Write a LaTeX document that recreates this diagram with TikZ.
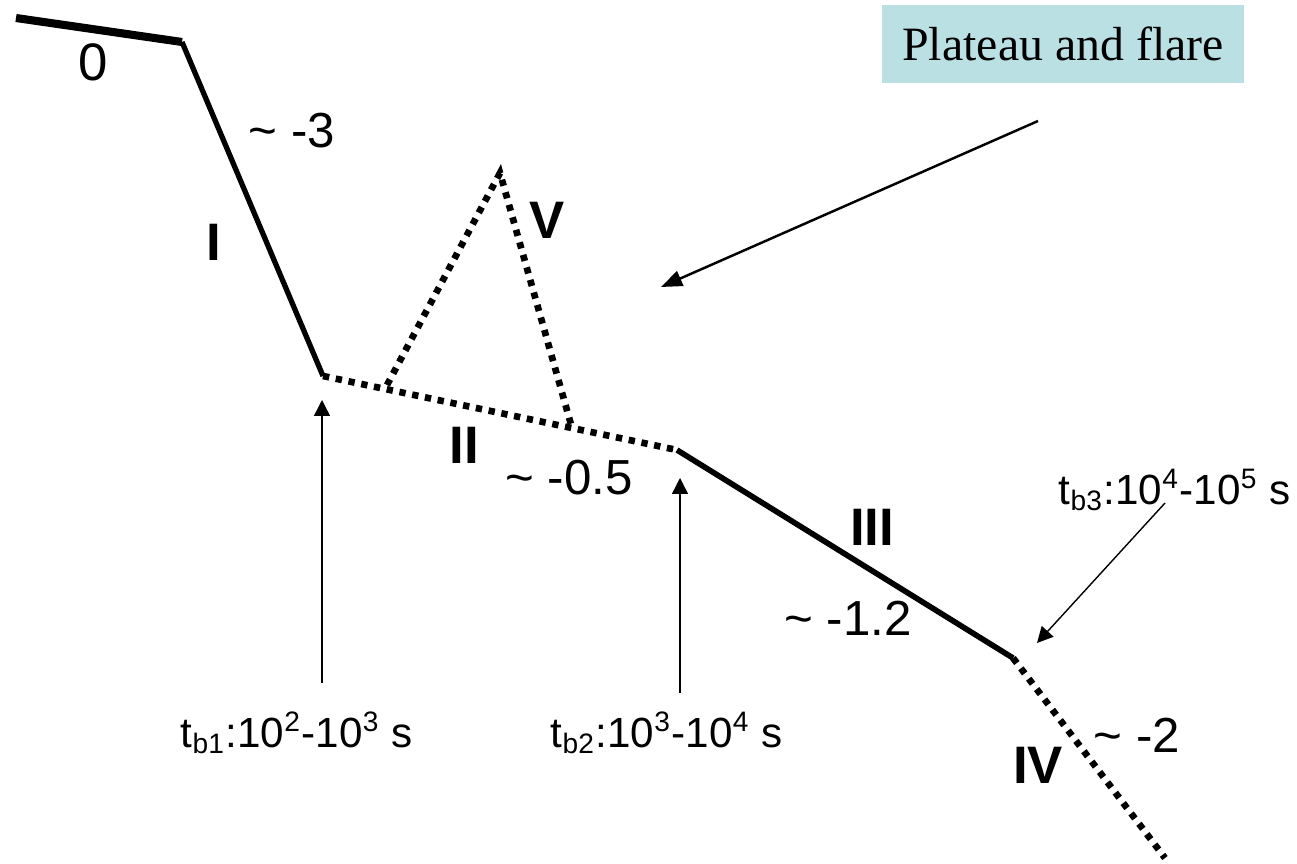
\documentclass[tikz,border=0pt]{standalone}
\usepackage{fontspec}
\setmainfont{Liberation Sans}
\newfontfamily\boxfont{Liberation Serif}
\usepackage{xcolor}
\definecolor{plateau}{HTML}{BBE0E3}
\usetikzlibrary{arrows.meta,positioning}

\begin{document}
\begin{tikzpicture}[x=0.01cm, y=-0.01cm,
  seg/.style={line width=1.5pt},
  segdot/.style={line width=1.9pt, dash pattern=on 1.8pt off 1.9pt},
  slope/.style={font=\fontsize{14}{16}\selectfont, inner sep=0pt},
  phase/.style={font=\fontsize{15}{17}\selectfont\bfseries, inner sep=0pt},
  brk/.style={font=\fontsize{12}{14}\selectfont, inner sep=0pt},
  arr/.style={-{Triangle[length=4.5pt,width=4.5pt]}, line width=0.4pt},
  note/.style={fill=plateau, font=\boxfont\fontsize{13.6}{16}\selectfont, minimum width=3.62cm, minimum height=0.78cm, inner sep=0pt}
]
\useasboundingbox (0,0) rectangle (1297,864);

% Break points of the light curve
\coordinate (b0) at (16,18);
\coordinate (b1) at (182,42);
\coordinate (b2) at (323,376);
\coordinate (b3) at (677,450);
\coordinate (b4) at (1013,658);
\coordinate (b5) at (1165,858);
% Flare (V)
\coordinate (v0) at (387,385);
\coordinate (vpk) at (500,173);
\coordinate (v1) at (572,428);

% Segments
\draw[seg, line width=2.3pt] (b0) -- (b1);
\draw[seg] (b1) -- (b2);
\draw[segdot] (b2) -- (b3);
\draw[seg, line width=1.6pt] (b3) -- (b4);
\draw[segdot] (b4) -- (b5);
\draw[segdot] (v0) -- (vpk) -- (v1);

% Phase labels
\node[phase] (l0) at (93,62) {\mdseries 0};
\node[phase] (lI) at (214,242) {I};
\node[phase] (lII) at (464,445) {II};
\node[phase] (lIII) at (872,527) {III};
\node[phase] (lIV) at (1038,765) {IV};
\node[phase] (lV) at (547,220) {V};

% Slopes
\node[slope] (s1) at (292,131) {\textasciitilde{} -3};
\node[slope] (s2) at (569,478) {\textasciitilde{} -0.5};
\node[slope] (s3) at (848,618) {\textasciitilde{} -1.2};
\node[slope] (s4) at (1137,735) {\textasciitilde{} -2};

% Break times
\node[brk] (tb1) at (297,733) {t\textsubscript{b1}:10\textsuperscript{2}-10\textsuperscript{3} s};
\node[brk] (tb2) at (667,733) {t\textsubscript{b2}:10\textsuperscript{3}-10\textsuperscript{4} s};
\node[brk] (tb3) at (1175,490) {t\textsubscript{b3}:10\textsuperscript{4}-10\textsuperscript{5} s};
\coordinate (a1) at (322,683);
\coordinate (a1e) at (322,400);
\coordinate (a2) at (680,693);
\coordinate (a2e) at (680,478);
\coordinate (a3) at (1165,503);
\coordinate (a3e) at (1037,643);
\draw[arr] (a1) -- (a1e);
\draw[arr] (a2) -- (a2e);
\draw[arr] (a3) -- (a3e);

% Plateau and flare
\node[note] (pf) at (1063,44) {Plateau and flare};
\coordinate (pa) at (1038,121);
\coordinate (pae) at (661,287);
\draw[arr, line width=0.7pt, -{Triangle[length=6pt,width=4.5pt]}] (pa) -- (pae);
\end{tikzpicture}
\end{document}
